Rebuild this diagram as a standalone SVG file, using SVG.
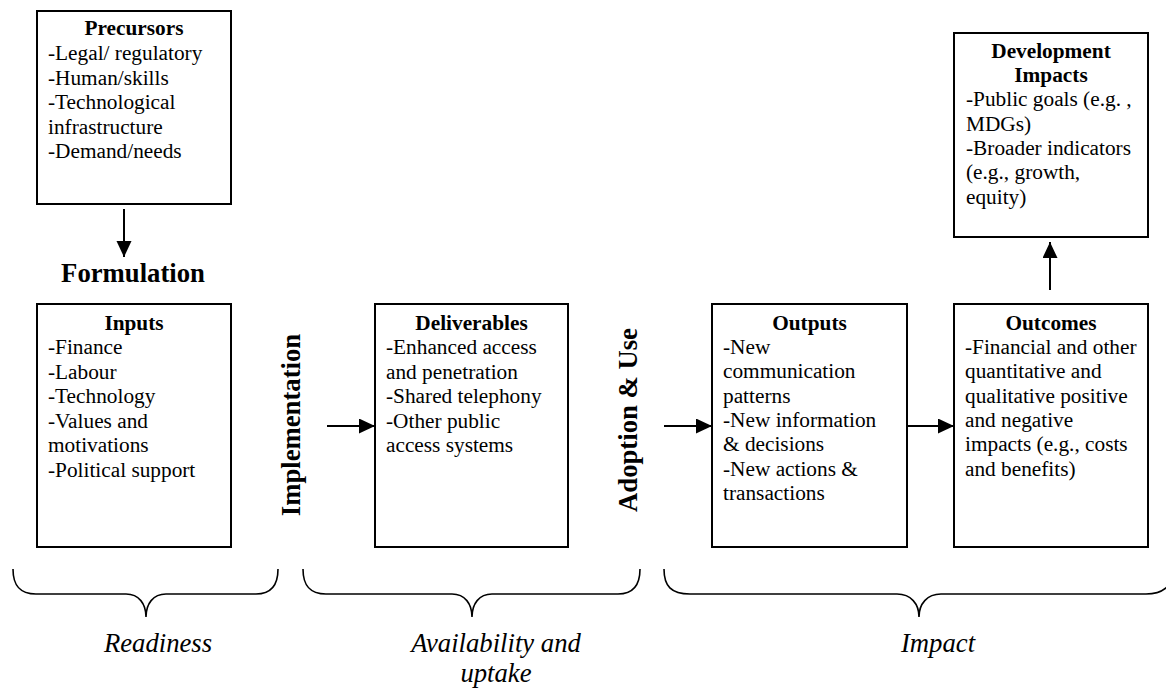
<svg xmlns="http://www.w3.org/2000/svg" width="1166" height="688" viewBox="0 0 1166 688">
<defs>
<style>
.box{fill:#fff;stroke:#000;stroke-width:2}
.t{font-family:"Liberation Serif","Times New Roman",serif;font-size:21.3px;fill:#000}
.h{font-weight:bold;text-anchor:middle}
.big{font-family:"Liberation Serif","Times New Roman",serif;font-size:26.7px;font-weight:bold;fill:#000;text-anchor:middle}
.lab{font-family:"Liberation Serif","Times New Roman",serif;font-size:26.7px;font-style:italic;fill:#000;text-anchor:middle}
.conn{stroke:#000;stroke-width:2;fill:none}
.brace{stroke:#000;stroke-width:1.6;fill:none}
</style>
<marker id="ah" markerUnits="userSpaceOnUse" markerWidth="16" markerHeight="16" refX="16" refY="7.5" orient="auto">
<path d="M0,0 L16,7.5 L0,15 z" fill="#000"/>
</marker>
</defs>
<rect width="1166" height="688" fill="#fff"/>

<g id="precursors">
<rect class="box" x="37" y="11" width="194" height="193"/>
<text class="t h" x="134" y="35">Precursors</text>
<text class="t" x="48" y="60">-Legal/ regulatory</text>
<text class="t" x="48" y="84.5">-Human/skills</text>
<text class="t" x="48" y="109">-Technological</text>
<text class="t" x="48" y="133.5">infrastructure</text>
<text class="t" x="48" y="158">-Demand/needs</text>
</g>

<g id="formulation">
<text class="big" x="133" y="282">Formulation</text>
</g>

<g id="inputs">
<rect class="box" x="37" y="304" width="194" height="243"/>
<text class="t h" x="134" y="330">Inputs</text>
<text class="t" x="48" y="354">-Finance</text>
<text class="t" x="48" y="378.5">-Labour</text>
<text class="t" x="48" y="403">-Technology</text>
<text class="t" x="48" y="427.5">-Values and</text>
<text class="t" x="48" y="452">motivations</text>
<text class="t" x="48" y="476.5">-Political support</text>
</g>

<g id="implementation">
<text class="big" transform="translate(300,425) rotate(-90)">Implementation</text>
</g>

<g id="deliverables">
<rect class="box" x="375" y="304" width="193" height="243"/>
<text class="t h" x="471.5" y="330">Deliverables</text>
<text class="t" x="386" y="354">-Enhanced access</text>
<text class="t" x="386" y="378.5">and penetration</text>
<text class="t" x="386" y="403">-Shared telephony</text>
<text class="t" x="386" y="427.5">-Other public</text>
<text class="t" x="386" y="452">access systems</text>
</g>

<g id="adoption">
<text class="big" transform="translate(637,420) rotate(-90)">Adoption &amp; Use</text>
</g>

<g id="outputs">
<rect class="box" x="712" y="304" width="195" height="243"/>
<text class="t h" x="809.5" y="330">Outputs</text>
<text class="t" x="723" y="354">-New</text>
<text class="t" x="723" y="378.3">communication</text>
<text class="t" x="723" y="402.6">patterns</text>
<text class="t" x="723" y="427">-New information</text>
<text class="t" x="723" y="451.3">&amp; decisions</text>
<text class="t" x="723" y="475.6">-New actions &amp;</text>
<text class="t" x="723" y="500">transactions</text>
</g>

<g id="outcomes">
<rect class="box" x="954" y="304" width="194" height="243"/>
<text class="t h" x="1051" y="330">Outcomes</text>
<text class="t" x="965" y="354">-Financial and other</text>
<text class="t" x="965" y="378.3">quantitative and</text>
<text class="t" x="965" y="402.6">qualitative positive</text>
<text class="t" x="965" y="427">and negative</text>
<text class="t" x="965" y="451.3">impacts (e.g., costs</text>
<text class="t" x="965" y="475.6">and benefits)</text>
</g>

<g id="development-impacts">
<rect class="box" x="954" y="33" width="194" height="204"/>
<text class="t h" x="1051" y="58">Development</text>
<text class="t h" x="1051" y="82">Impacts</text>
<text class="t" x="966" y="106">-Public goals (e.g. ,</text>
<text class="t" x="966" y="130.5">MDGs)</text>
<text class="t" x="966" y="155">-Broader indicators</text>
<text class="t" x="966" y="179">(e.g., growth,</text>
<text class="t" x="966" y="203.5">equity)</text>
</g>

<g id="connectors">
<line class="conn" x1="124" y1="209" x2="124" y2="257" marker-end="url(#ah)"/>
<line class="conn" x1="327" y1="426" x2="375" y2="426" marker-end="url(#ah)"/>
<line class="conn" x1="664" y1="426" x2="712" y2="426" marker-end="url(#ah)"/>
<line class="conn" x1="907" y1="426" x2="954" y2="426" marker-end="url(#ah)"/>
<line class="conn" x1="1050" y1="290" x2="1050" y2="242" marker-end="url(#ah)"/>
</g>

<g id="braces">
<path class="brace" d="M13,569 C13,586 20,594 36,594 H126 C139,594 146,604 146,617 C146,604 153,594 166,594 H256 C271,594 278,586 278,569"/>
<path class="brace" d="M303,569 C303,586 310,594 326,594 H452 C465,594 472,604 472,617 C472,604 479,594 492,594 H618 C633,594 640,586 640,569"/>
<path class="brace" d="M664,569 C664,586 671,594 690,594 H897 C911,594 919,604 919,617 C919,604 927,594 941,594 H1146 C1162,594 1174,586 1174,569"/>
</g>

<g id="labels">
<text class="lab" x="158" y="652">Readiness</text>
<text class="lab" x="496" y="652">Availability and</text>
<text class="lab" x="496" y="682">uptake</text>
<text class="lab" x="938" y="652">Impact</text>
</g>
</svg>
